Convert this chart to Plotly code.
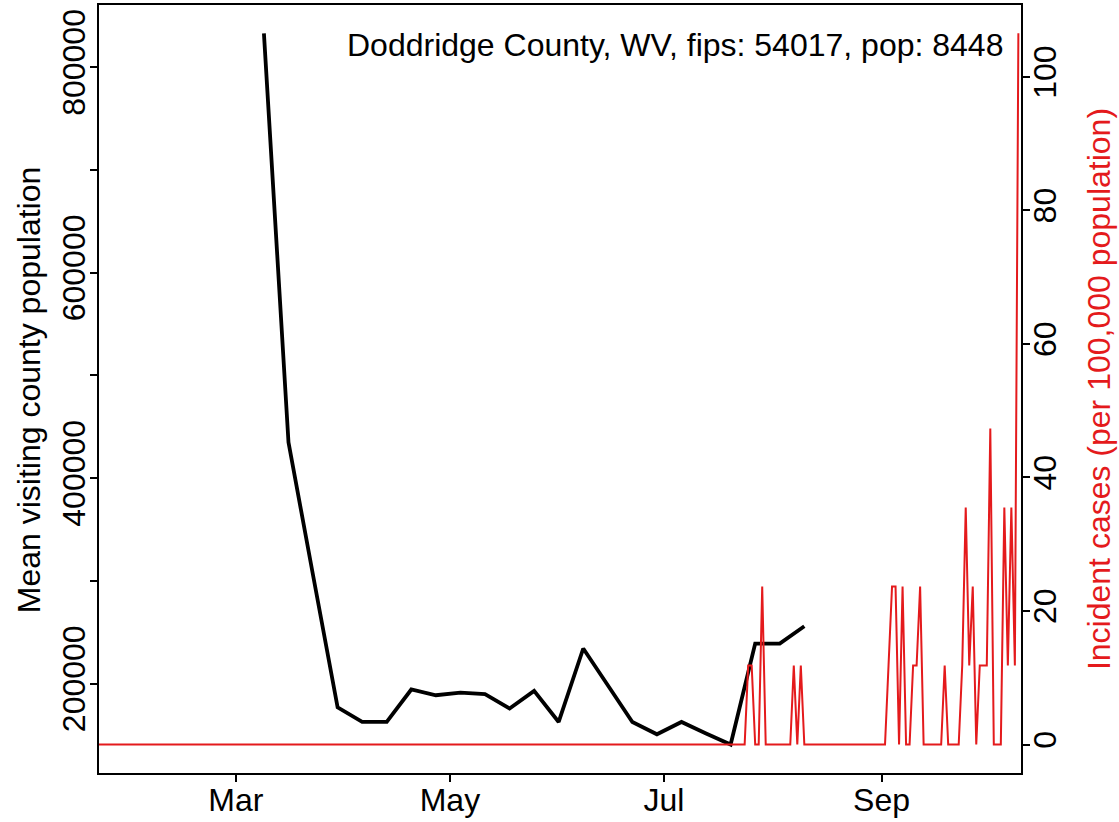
import pandas as pd
import plotly.graph_objects as go

# ---- data ----
title_text = "Doddridge County, WV, fips: 54017, pop: 8448"
left_title = "Mean visiting county population"
right_title = "Incident cases (per 100,000 population)"
population = 8448

visit_dates = pd.date_range("2020-03-09", periods=23, freq="7D")
visit_values = [832900, 434900, 305400, 176900, 162600, 162600, 194200, 188600,
                191200, 189600, 175700, 192800, 162600, 234100, 198300, 162600,
                150600, 162600, 151300, 140600, 238900, 238900, 255800]

# daily incident case counts; zero from 2020-01-22 up to 2020-07-19
case_start_dates = ["2020-01-22"]
case_start_counts = [0]
case_daily_start = "2020-07-20"
case_daily_counts = [
    0, 0, 0, 0, 0, 1, 1, 0, 0, 2,
    0, 0, 0, 0, 0, 0, 0, 0, 1, 0,
    1, 0, 0, 0, 0, 0, 0, 0, 0, 0,
    0, 0, 0, 0, 0, 0, 0, 0, 0, 0,
    0, 0, 0, 0, 0, 1, 2, 2, 0, 2,
    0, 0, 1, 1, 2, 0, 0, 0, 0, 0,
    0, 1, 0, 0, 0, 0, 1, 3, 1, 2,
    0, 1, 1, 1, 4, 0, 0, 0, 3, 1,
    3, 1, 9,
]

x_ticks = ["2020-03-01", "2020-05-01", "2020-07-01", "2020-09-01"]
x_tick_labels = ["Mar", "May", "Jul", "Sep"]
left_ticks = [200000, 300000, 400000, 500000, 600000, 700000, 800000]
left_tick_labels = ["200000", "", "400000", "", "600000", "", "800000"]
right_ticks = [0, 20, 40, 60, 80, 100]

# ---- build series ----
daily_dates = pd.date_range(case_daily_start, periods=len(case_daily_counts), freq="D")
case_dates = list(pd.to_datetime(case_start_dates)) + list(daily_dates)
case_counts = case_start_counts + case_daily_counts
incidence = [c / population * 100000 for c in case_counts]

RED = "#E41A1C"
FONT = "Liberation Sans, Arial, Helvetica, sans-serif"
FS = 32

fig = go.Figure()
fig.add_trace(go.Scatter(x=visit_dates, y=visit_values, mode="lines",
                         line=dict(color="black", width=3.8), yaxis="y",
                         showlegend=False, hoverinfo="skip"))
fig.add_trace(go.Scatter(x=case_dates, y=incidence, mode="lines",
                         line=dict(color=RED, width=2), yaxis="y2",
                         showlegend=False, hoverinfo="skip"))

fig.update_layout(
    width=1119, height=822,
    margin=dict(l=99, r=98, t=5, b=49, autoexpand=False),
    paper_bgcolor="white", plot_bgcolor="white",
    font=dict(family=FONT, size=FS, color="black"),
    xaxis=dict(type="date", range=["2020-01-22", "2020-10-10 18:00"],
               tickvals=x_ticks, ticktext=x_tick_labels, automargin=False,
               showgrid=False, zeroline=False,
               showline=True, linecolor="black", linewidth=2, mirror=True,
               ticks="outside", ticklen=7, tickwidth=1.5, tickcolor="black",
               ticklabelstandoff=-9,
               tickfont=dict(size=FS)),
    yaxis=dict(range=[112900, 860600], tickvals=left_ticks, ticktext=left_tick_labels,
               tickangle=-90, showgrid=False, zeroline=False, automargin=False,
               showline=True, linecolor="black", linewidth=2,
               ticks="outside", ticklen=7, tickwidth=1.5, tickcolor="black",
               ticklabelstandoff=-8,
               tickfont=dict(size=FS)),
    yaxis2=dict(range=[-4.26, 110.76], overlaying="y", side="right",
                tickvals=right_ticks, ticktext=[str(v) for v in right_ticks],
                tickangle=-90, showgrid=False, zeroline=False, automargin=False,
                showline=True, linecolor="black", linewidth=2,
                ticks="outside", ticklen=7, tickwidth=1.5, tickcolor="black",
                ticklabelstandoff=-12,
                tickfont=dict(size=FS, color="black"),
                title=dict(text=right_title,
                           font=dict(size=FS, color=RED), standoff=25)),
    annotations=[
        dict(text=title_text, xref="paper", yref="paper",
             x=0.983, y=0.9485, xanchor="right", yanchor="middle",
             showarrow=False, font=dict(size=FS, color="black")),
        dict(text=left_title, xref="paper", yref="paper",
             x=-0.075, y=0.4995, xanchor="center", yanchor="middle",
             textangle=-90, showarrow=False, font=dict(size=FS, color="black")),
    ],
)

fig.write_html("out.html", config={"displayModeBar": False},
               post_script="document.body.style.margin='0px';")
